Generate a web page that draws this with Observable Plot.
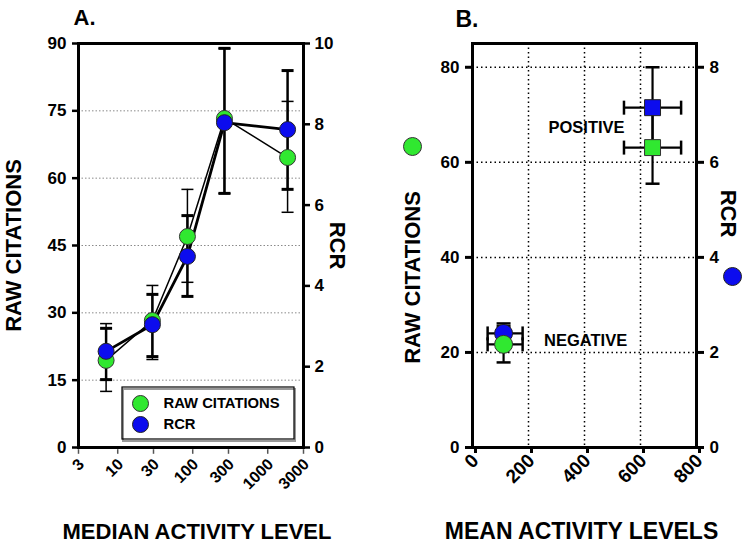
<!DOCTYPE html>
<html>
<head>
<meta charset="utf-8">
<script src="https://cdn.jsdelivr.net/npm/d3@7"></script>
<script src="https://cdn.jsdelivr.net/npm/@observablehq/plot@0.6"></script>
<style>
  html, body { margin: 0; padding: 0; background: #fff; }
  #wrap { position: relative; width: 748px; height: 545px; overflow: hidden; }
  #wrap svg { position: absolute; top: 0; }
</style>
</head>
<body>
<div id="wrap"></div>
<script>
// ---------- Panel A data ----------
const medianActivity = [7, 29, 85, 265, 1840];
const rawCitationsA = [19.4, 28.3, 47.0, 73.3, 64.6];
const rawLowA  = [12.5, 19.6, 36.8, 56.6, 52.4];
const rawHighA = [27.6, 36.1, 57.5, 88.9, 77.1];
const rcrA     = [2.38, 3.04, 4.73, 8.04, 7.87];
const rcrLowA  = [1.68, 2.25, 3.74, 6.29, 6.39];
const rcrHighA = [2.95, 3.79, 5.74, 9.88, 9.33];
const xTicksA = [3, 10, 30, 100, 300, 1000, 3000];
const yTicksA = [0, 15, 30, 45, 60, 75, 90];
const rcrTicksA = [0, 2, 4, 6, 8, 10];

// ---------- Panel B data ----------
const groupsB = ["NEGATIVE", "POSITIVE"];
const meanActivity = [111, 643];
const activityLow  = [54, 541];
const activityHigh = [179, 745];
const rawB     = [21.7, 63.1];
const rawLowB  = [17.9, 55.5];
const rawHighB = [25.5, 70.7];
const rcrB     = [2.40, 7.15];
const rcrLowB  = [2.19, 6.30];
const rcrHighB = [2.61, 8.00];
const xTicksB = [0, 200, 400, 600, 800];
const yTicksB = [0, 20, 40, 60, 80];
const rcrTicksB = [0, 2, 4, 6, 8];

const GREEN = "#30e830";
const BLUE = "#0c0cee";
const FONT = "'Liberation Sans', Arial, sans-serif";

// cap symbols for error bars and tick marks
const hCap = {draw(ctx, size) { const r = Math.sqrt(size / Math.PI); ctx.moveTo(-r, 0); ctx.lineTo(r, 0); }};
const vCap = {draw(ctx, size) { const r = Math.sqrt(size / Math.PI); ctx.moveTo(0, -r); ctx.lineTo(0, r); }};

// ---------- Panel A ----------
const kA = 90 / 10; // RCR -> raw scale factor
const ptsA = medianActivity.map((x, i) => ({
  x, raw: rawCitationsA[i], rawLo: rawLowA[i], rawHi: rawHighA[i],
  rcr: rcrA[i] * kA, rcrLo: rcrLowA[i] * kA, rcrHi: rcrHighA[i] * kA
}));

const plotA = Plot.plot({
  width: 374, height: 545,
  marginLeft: 78, marginRight: 71, marginTop: 43, marginBottom: 98,
  style: {fontFamily: FONT, fontWeight: "bold", background: "transparent", overflow: "visible"},
  x: {type: "log", domain: [3, 3000], label: null, axis: null},
  y: {domain: [0, 90], label: null},
  marks: [
    Plot.gridY(yTicksA.filter(d => d > 0 && d < 90), {stroke: "#8a8a8a", strokeOpacity: 1, strokeWidth: 1, strokeDasharray: "1.5,2"}),
    // RAW CITATIONS error bars (thin)
    Plot.ruleX(ptsA, {x: "x", y1: "rawLo", y2: "rawHi", stroke: "black", strokeWidth: 1.5}),
    Plot.dot(ptsA, {x: "x", y: "rawLo", symbol: hCap, r: 6, stroke: "black", strokeWidth: 1.5}),
    Plot.dot(ptsA, {x: "x", y: "rawHi", symbol: hCap, r: 6, stroke: "black", strokeWidth: 1.5}),
    // RCR error bars (thick)
    Plot.ruleX(ptsA, {x: "x", y1: "rcrLo", y2: "rcrHi", stroke: "black", strokeWidth: 2.5}),
    Plot.dot(ptsA, {x: "x", y: "rcrLo", symbol: hCap, r: 6, stroke: "black", strokeWidth: 3}),
    Plot.dot(ptsA, {x: "x", y: "rcrHi", symbol: hCap, r: 6, stroke: "black", strokeWidth: 3}),
    // lines
    Plot.line(ptsA, {x: "x", y: "raw", stroke: "black", strokeWidth: 1.5}),
    Plot.line(ptsA, {x: "x", y: "rcr", stroke: "black", strokeWidth: 2.8}),
    // points
    Plot.dot(ptsA, {x: "x", y: "raw", r: 8, fill: GREEN, stroke: "#333", strokeWidth: 1}),
    Plot.dot(ptsA, {x: "x", y: "rcr", r: 8, fill: BLUE, stroke: "#222", strokeWidth: 1}),
    Plot.frame({stroke: "black", strokeWidth: 3}),
    // axes
    Plot.axisY(yTicksA, {anchor: "left", tickSize: 6, tickPadding: 6, fontSize: 17, fontWeight: "bold", strokeWidth: 2.5, label: null}),
    Plot.axisY(rcrTicksA.map(d => d * kA), {anchor: "right", tickFormat: d => String(Math.round(d / kA)), tickSize: 6, tickPadding: 5, fontSize: 17, fontWeight: "bold", strokeWidth: 2.5, label: null}),
    // log x axis: tick marks and rotated labels
    Plot.dot(xTicksA, {x: d => d, frameAnchor: "bottom", dy: 4, symbol: vCap, r: 2.3, stroke: "#555", strokeWidth: 1.5}),
    Plot.text(xTicksA, {x: d => d, frameAnchor: "bottom", text: d => String(d), rotate: -45, textAnchor: "end", lineAnchor: "middle", dx: 3, dy: 14, fontSize: 16, fontWeight: "bold"}),
    // titles
    Plot.text(["A."], {frameAnchor: "top-left", dx: -5, dy: -19, textAnchor: "start", lineAnchor: "bottom", fontSize: 22, fontWeight: "bold"}),
    Plot.text(["RAW CITATIONS"], {frameAnchor: "left", dx: -65, rotate: -90, textAnchor: "middle", lineAnchor: "middle", fontSize: 22, fontWeight: "bold"}),
    Plot.text(["RCR"], {frameAnchor: "right", dx: 34, rotate: 90, textAnchor: "middle", lineAnchor: "middle", fontSize: 22, fontWeight: "bold"}),
    Plot.text(["MEDIAN ACTIVITY LEVEL"], {frameAnchor: "bottom", dx: 6, dy: 84, textAnchor: "middle", lineAnchor: "middle", fontSize: 22, fontWeight: "bold"}),
    // legend
    Plot.dot([0], {frameAnchor: "bottom-left", dx: 62, dy: -44, r: 8, fill: GREEN, stroke: "#333", strokeWidth: 1}),
    Plot.dot([0], {frameAnchor: "bottom-left", dx: 62, dy: -23, r: 8, fill: BLUE, stroke: "#222", strokeWidth: 1}),
    Plot.text(["RAW CITATIONS"], {frameAnchor: "bottom-left", dx: 85, dy: -44, textAnchor: "start", lineAnchor: "middle", fontSize: 14.8, fontWeight: "bold"}),
    Plot.text(["RCR"], {frameAnchor: "bottom-left", dx: 85, dy: -23, textAnchor: "start", lineAnchor: "middle", fontSize: 14.8, fontWeight: "bold"})
  ]
});
plotA.style.left = "0px";
// legend box
d3.select(plotA).append("rect")
  .attr("x", 123).attr("y", 389).attr("width", 172).attr("height", 52)
  .attr("fill", "none").attr("stroke", "#999").attr("stroke-width", 2);
d3.select(plotA).append("rect")
  .attr("x", 122).attr("y", 387).attr("width", 172).attr("height", 52)
  .attr("fill", "none").attr("stroke", "black").attr("stroke-width", 1.2);

// ---------- Panel B ----------
const kB = 85 / 8.5;
const ptsB = groupsB.map((g, i) => ({
  group: g, x: meanActivity[i], xLo: activityLow[i], xHi: activityHigh[i],
  raw: rawB[i], rawLo: rawLowB[i], rawHi: rawHighB[i],
  rcr: rcrB[i] * kB, rcrLo: rcrLowB[i] * kB, rcrHi: rcrHighB[i] * kB
}));
const isNeg = d => d.group === "NEGATIVE";
const isPos = d => d.group === "POSITIVE";

function errorMarks(yKey, loKey, hiKey) {
  return [
    Plot.ruleX(ptsB, {x: "x", y1: loKey, y2: hiKey, stroke: "black", strokeWidth: 2.2}),
    Plot.dot(ptsB, {x: "x", y: loKey, symbol: hCap, r: 7, stroke: "black", strokeWidth: 2.5}),
    Plot.dot(ptsB, {x: "x", y: hiKey, symbol: hCap, r: 7, stroke: "black", strokeWidth: 2.5}),
    Plot.ruleY(ptsB, {y: yKey, x1: "xLo", x2: "xHi", stroke: "black", strokeWidth: 2.2}),
    Plot.dot(ptsB, {x: "xLo", y: yKey, symbol: vCap, r: 7, stroke: "black", strokeWidth: 2.5}),
    Plot.dot(ptsB, {x: "xHi", y: yKey, symbol: vCap, r: 7, stroke: "black", strokeWidth: 2.5})
  ];
}

const plotB = Plot.plot({
  width: 374, height: 545,
  marginLeft: 98, marginRight: 52, marginTop: 43, marginBottom: 98,
  style: {fontFamily: FONT, fontWeight: "bold", background: "transparent", overflow: "visible"},
  x: {domain: [0, 800], label: null},
  y: {domain: [0, 85], label: null},
  marks: [
    Plot.gridX(xTicksB.filter(d => d > 0 && d < 800), {stroke: "black", strokeOpacity: 1, strokeWidth: 1.5, strokeDasharray: "1.5,3"}),
    Plot.gridY(yTicksB.filter(d => d > 0), {stroke: "black", strokeOpacity: 1, strokeWidth: 1.5, strokeDasharray: "1.5,3"}),
    ...errorMarks("rcr", "rcrLo", "rcrHi"),
    ...errorMarks("raw", "rawLo", "rawHi"),
    Plot.dot(ptsB, {filter: isNeg, x: "x", y: "rcr", r: 9, fill: BLUE, stroke: "#222", strokeWidth: 1}),
    Plot.dot(ptsB, {filter: isPos, x: "x", y: "rcr", symbol: "square", r: 9, fill: BLUE, stroke: "#222", strokeWidth: 1}),
    Plot.dot(ptsB, {filter: isNeg, x: "x", y: "raw", r: 9, fill: GREEN, stroke: "#333", strokeWidth: 1}),
    Plot.dot(ptsB, {filter: isPos, x: "x", y: "raw", symbol: "square", r: 9, fill: GREEN, stroke: "#333", strokeWidth: 1}),
    Plot.text(ptsB, {filter: isPos, x: "x", y: "rcr", text: "group", dx: -66, dy: 20, fontSize: 16.5, fontWeight: "bold"}),
    Plot.text(ptsB, {filter: isNeg, x: "x", y: "raw", text: "group", dx: 82, dy: -4, fontSize: 16.5, fontWeight: "bold"}),
    Plot.frame({stroke: "black", strokeWidth: 3}),
    Plot.axisY(yTicksB, {anchor: "left", tickSize: 7, tickPadding: 6, fontSize: 17, fontWeight: "bold", strokeWidth: 3, label: null}),
    Plot.axisY(rcrTicksB.map(d => d * kB), {anchor: "right", tickFormat: d => String(Math.round(d / kB)), tickSize: 7, tickPadding: 6, fontSize: 17, fontWeight: "bold", strokeWidth: 3, label: null}),
    Plot.axisX(xTicksB, {tickRotate: -45, tickSize: 6, tickPadding: 4, dx: 3, fontSize: 19, fontWeight: "bold", strokeWidth: 3, label: null}),
    Plot.text(["B."], {frameAnchor: "top-left", dx: -17, dy: -17, textAnchor: "start", lineAnchor: "bottom", fontSize: 23, fontWeight: "bold"}),
    Plot.text(["RAW CITATIONS"], {frameAnchor: "left", dx: -60, dy: 32, rotate: -90, textAnchor: "middle", lineAnchor: "middle", fontSize: 22, fontWeight: "bold"}),
    Plot.text(["RCR"], {frameAnchor: "right", dx: 32, dy: -32, rotate: 90, textAnchor: "middle", lineAnchor: "middle", fontSize: 22, fontWeight: "bold"}),
    Plot.text(["MEAN ACTIVITY LEVELS"], {frameAnchor: "bottom", dx: -3, dy: 84, textAnchor: "middle", lineAnchor: "middle", fontSize: 23, fontWeight: "bold"}),
    Plot.dot([0], {frameAnchor: "left", dx: -60, dy: -99, r: 9, fill: GREEN, stroke: "#333", strokeWidth: 1}),
    Plot.dot([0], {frameAnchor: "right", dx: 36, dy: 31, r: 9, fill: BLUE, stroke: "#222", strokeWidth: 1})
  ]
});
plotB.style.left = "374px";

document.getElementById("wrap").append(plotA, plotB);
</script>
</body>
</html>
